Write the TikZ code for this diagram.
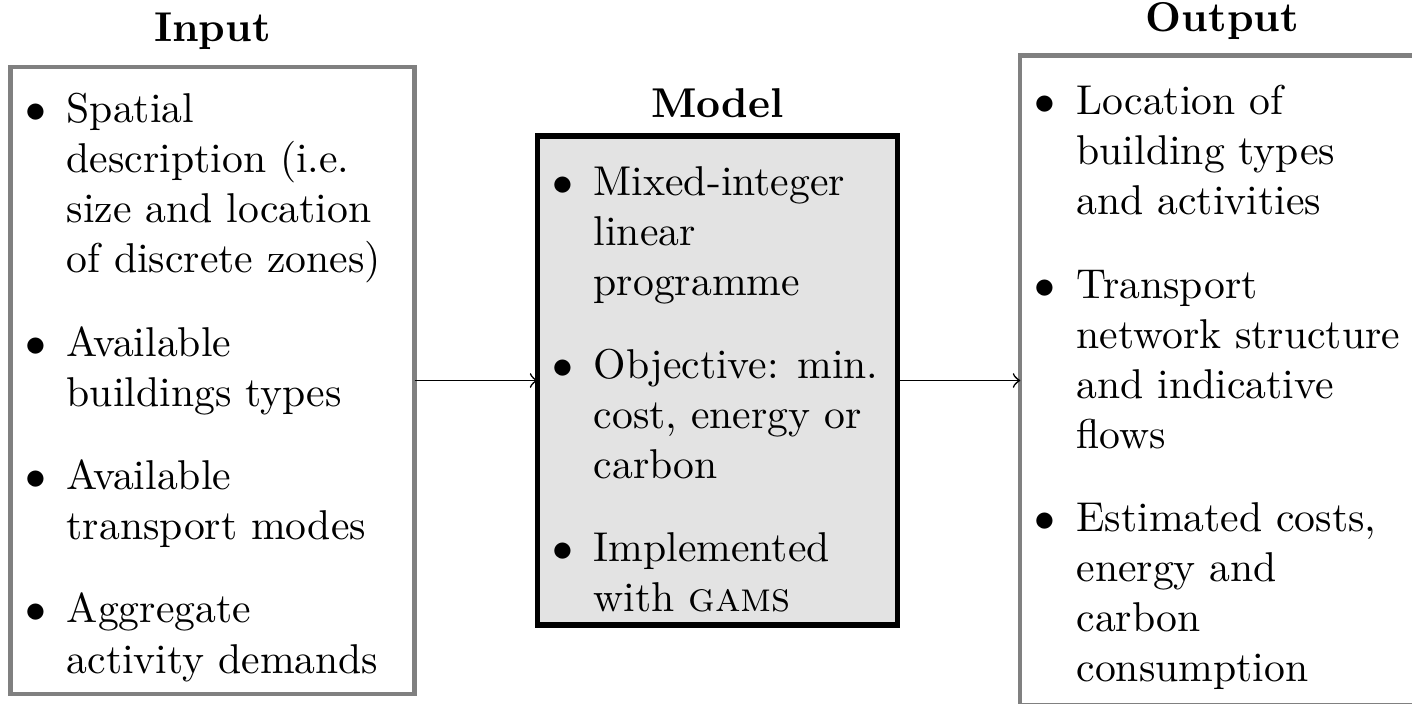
\documentclass[tikz,border=0pt]{standalone}
\usepackage{tikz}
\usetikzlibrary{positioning}

\setlength{\leftmargini}{10pt}
\renewcommand{\labelitemi}{$\bullet$}
% bullet list set in a top-aligned minipage of the given width
\newcommand{\pointlist}[2]{%
    \begin{minipage}[t]{#1}\raggedright
        \begin{itemize}#2\end{itemize}
    \end{minipage}}

\begin{document}
\begin{tikzpicture}[node distance=29.5pt,
    listbox/.style={draw=gray, line width=1pt, inner xsep=3.5pt, inner ysep=0pt, outer sep=0pt},
    modelbox/.style={draw, line width=1.4pt, fill=gray!22, inner xsep=3.5pt, inner ysep=0pt,
        outer sep=0pt, text height=14.2pt, text depth=103.2pt},
    heading/.style={font=\bfseries, anchor=base}]
    \useasboundingbox (0,0) rectangle (338.88pt,168.72pt);

    \node[listbox, text height=13.5pt, text depth=137.1pt, anchor=west] (input) at (2.52pt,77.4pt) {%
        \pointlist{89.96pt}{
            \item Spatial description (i.e.\ size and location of discrete zones)
            \item Available buildings types
            \item Available transport modes
            \item Aggregate activity demands}};
    \node[modelbox] [right=of input] (model) {%
        \pointlist{79.4pt}{
            \item Mixed-integer linear programme
            \item Objective: min.\ cost, energy or carbon
            \item Implemented with \textsc{gams}}};
    \node[listbox, text height=14.28pt, text depth=141.72pt] [right=of model] (output) {%
        \pointlist{89.96pt}{
            \item Location of building types and activities
            \item Transport network structure and indicative flows
            \item Estimated costs, energy and carbon consumption}};

    \node[above=6pt of input, heading] (input_title) {Input};
    \node[above=4.4pt of model, heading] (model_title) {Model};
    \node[above=5.8pt of output, heading] (output_title) {Output};

    \path[->]
    (input) edge (model)
    (model) edge (output)
    ;
\end{tikzpicture}
\end{document}
